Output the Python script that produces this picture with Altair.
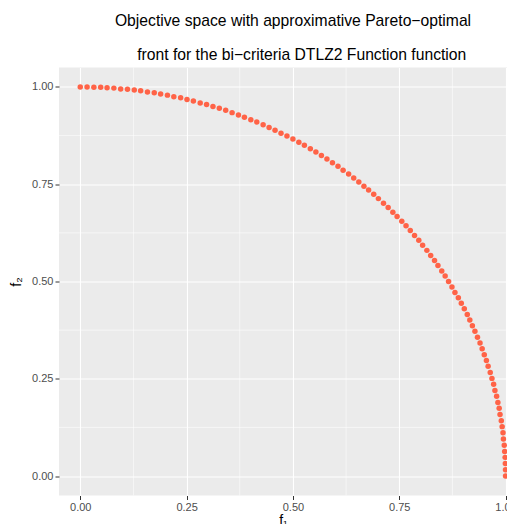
import altair as alt
import pandas as pd

# Approximate Pareto front points
f1 = [0.000, 0.016, 0.032, 0.048, 0.063, 0.079, 0.095, 0.111, 0.127, 0.142,
      0.158, 0.174, 0.189, 0.205, 0.220, 0.236, 0.251, 0.266, 0.282, 0.297,
      0.312, 0.327, 0.342, 0.357, 0.372, 0.386, 0.401, 0.415, 0.430, 0.444,
      0.458, 0.472, 0.486, 0.500, 0.514, 0.527, 0.541, 0.554, 0.567, 0.580,
      0.593, 0.606, 0.618, 0.631, 0.643, 0.655, 0.667, 0.678, 0.690, 0.701,
      0.713, 0.724, 0.735, 0.745, 0.756, 0.766, 0.776, 0.786, 0.796, 0.805,
      0.815, 0.824, 0.833, 0.841, 0.850, 0.858, 0.866, 0.874, 0.881, 0.889,
      0.896, 0.903, 0.910, 0.916, 0.922, 0.928, 0.934, 0.940, 0.945, 0.950,
      0.955, 0.959, 0.964, 0.968, 0.972, 0.975, 0.979, 0.982, 0.985, 0.987,
      0.990, 0.992, 0.994, 0.995, 0.997, 0.998, 0.999, 0.9995, 0.9999, 1.000]
f2 = [1.000, 0.9999, 0.9995, 0.999, 0.998, 0.997, 0.995, 0.994, 0.992, 0.990,
      0.987, 0.985, 0.982, 0.979, 0.975, 0.972, 0.968, 0.964, 0.959, 0.955,
      0.950, 0.945, 0.940, 0.934, 0.928, 0.922, 0.916, 0.910, 0.903, 0.896,
      0.889, 0.881, 0.874, 0.866, 0.858, 0.850, 0.841, 0.833, 0.824, 0.815,
      0.805, 0.796, 0.786, 0.776, 0.766, 0.756, 0.745, 0.735, 0.724, 0.713,
      0.701, 0.690, 0.678, 0.667, 0.655, 0.643, 0.631, 0.618, 0.606, 0.593,
      0.580, 0.567, 0.554, 0.541, 0.527, 0.514, 0.500, 0.486, 0.472, 0.458,
      0.444, 0.430, 0.415, 0.401, 0.386, 0.372, 0.357, 0.342, 0.327, 0.312,
      0.297, 0.282, 0.266, 0.251, 0.236, 0.220, 0.205, 0.189, 0.174, 0.158,
      0.142, 0.127, 0.111, 0.095, 0.079, 0.063, 0.048, 0.032, 0.016, 0.000]

major_ticks = [0.0, 0.25, 0.5, 0.75, 1.0]
minor_ticks = [0.125, 0.375, 0.625, 0.875]

title_lines = ["Objective space with approximative Pareto\u2212optimal",
               "\u200b" + "\u00a0" * 4 + "front for the bi\u2212criteria DTLZ2 Function function"]

df = pd.DataFrame({"f1": f1, "f2": f2})
minor_df = pd.DataFrame({"v": minor_ticks})

FONT = "Liberation Sans"

# x panel is cut by the window's right edge, as in the reference
xscale = alt.Scale(domain=[-0.05, 1.0034], nice=False, zero=False)
yscale = alt.Scale(domain=[-0.05, 1.05], nice=False, zero=False)

axis_common = dict(
    values=major_ticks, format=".2f", labelColor="#4D4D4D", labelFontSize=11,
    labelFont=FONT, tickColor="#333333", tickSize=4, tickWidth=1,
    domain=False, grid=True, gridColor="white", gridWidth=1.1,
    titleFont=FONT, titleFontSize=14, titleFontWeight="normal", titleColor="black",
)
x_axis = alt.Axis(title="f\u2081", labelPadding=2, titlePadding=1, **axis_common)
y_axis = alt.Axis(title="f\u2082", labelPadding=2, titlePadding=8, **axis_common)

minor_x = alt.Chart(minor_df).mark_rule(color="white", strokeWidth=0.55).encode(
    x=alt.X("v:Q", scale=xscale, axis=x_axis, title="f\u2081")
)
minor_y = alt.Chart(minor_df).mark_rule(color="white", strokeWidth=0.55).encode(
    y=alt.Y("v:Q", scale=yscale, axis=y_axis, title="f\u2082")
)

points = alt.Chart(df).mark_circle(size=30, color="#FF6347", opacity=1).encode(
    x=alt.X("f1:Q", scale=xscale, axis=x_axis, title="f\u2081"),
    y=alt.Y("f2:Q", scale=yscale, axis=y_axis, title="f\u2082"),
)

chart = alt.layer(minor_x, minor_y, points).properties(
    width=448,
    height=428,
    autosize="none",
    padding={"left": 51, "top": 59.5, "right": 0, "bottom": 29},
    title=alt.TitleParams(
        text=title_lines, font=FONT, fontSize=15.7, fontWeight="normal",
        color="black", anchor="middle", lineHeight=34, offset=-8.5, dx=10,
        baseline="alphabetic",
    ),
).configure_view(fill="#EBEBEB", stroke=None)

chart.save("out.html", embed_options={"renderer": "svg", "actions": False})
